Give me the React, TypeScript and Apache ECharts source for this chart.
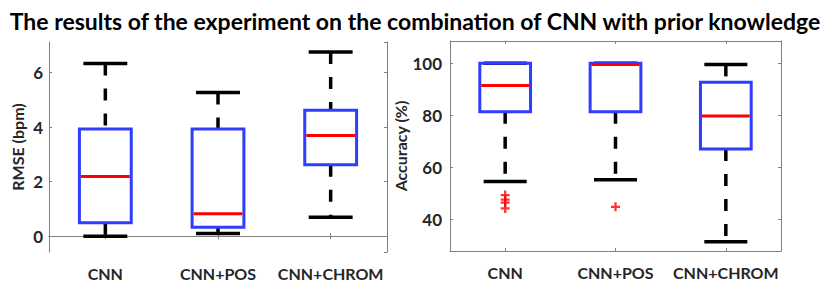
import React, { useEffect, useRef } from "react";
import * as echarts from "echarts";

const categories = ["CNN", "CNN+POS", "CNN+CHROM"];
// [low whisker, q1, median, q3, high whisker]
const rmseBoxes = [
  [0.0, 0.49, 2.19, 3.93, 6.33],
  [0.1, 0.33, 0.82, 3.93, 5.27],
  [0.69, 2.62, 3.69, 4.62, 6.75],
];
const accBoxes = [
  [54.5, 81.4, 91.5, 100, 100],
  [55.2, 81.4, 99.6, 100, 100],
  [31.4, 67.0, 79.7, 92.7, 99.6],
];
// [category index, value]
const accOutliers = [
  [0, 49.3],
  [0, 47.6],
  [0, 46.4],
  [0, 44.2],
  [1, 44.8],
];
const titleText = "The results of the experiment on the combination of CNN with prior knowledge";
const rmseName = "RMSE (bpm)";
const accName = "Accuracy (%)";

const FONT = "Lato";
const AXIS_COLOR = "#7f7f7f";
const TEXT_COLOR = "#262626";
const BLUE = "#2f3dff";
const RED = "#ff0000";

function renderBox(params: any, api: any) {
  const idx = api.value(0);
  const lo = api.coord([idx, api.value(1)]);
  const q1 = api.coord([idx, api.value(2)]);
  const med = api.coord([idx, api.value(3)]);
  const q3 = api.coord([idx, api.value(4)]);
  const hi = api.coord([idx, api.value(5)]);
  const band = api.size([1, 0])[0];
  const bw = band * 0.46;
  const cw = band * 0.39;
  const x = lo[0];
  const whiskerStyle = { stroke: "#000", lineWidth: 3.5, lineDash: [12, 13], fill: null };
  const capStyle = { stroke: "#000", lineWidth: 3.5, fill: null };
  const children: any[] = [];
  if (hi[1] < q3[1] - 1) {
    children.push({ type: "line", shape: { x1: x, y1: hi[1], x2: x, y2: q3[1] }, style: whiskerStyle });
  }
  if (lo[1] > q1[1] + 1) {
    children.push({ type: "line", shape: { x1: x, y1: q1[1], x2: x, y2: lo[1] }, style: whiskerStyle });
  }
  children.push({ type: "line", shape: { x1: x - cw / 2, y1: hi[1], x2: x + cw / 2, y2: hi[1] }, style: capStyle });
  children.push({ type: "line", shape: { x1: x - cw / 2, y1: lo[1], x2: x + cw / 2, y2: lo[1] }, style: capStyle });
  children.push({
    type: "rect",
    shape: { x: x - bw / 2, y: q3[1], width: bw, height: q1[1] - q3[1] },
    style: { stroke: BLUE, lineWidth: 3, fill: "none" },
  });
  children.push({
    type: "line",
    shape: { x1: x - bw / 2 + 1.5, y1: med[1], x2: x + bw / 2 - 1.5, y2: med[1] },
    style: { stroke: RED, lineWidth: 3 },
  });
  return { type: "group", children };
}

const plusPath = "path://M3,0H5V3H8V5H5V8H3V5H0V3H3Z";

export default function App() {
  const ref = useRef<HTMLDivElement>(null);
  useEffect(() => {
    if (!ref.current) return;
    const chart = echarts.init(ref.current, null, { renderer: "svg" });
    const catAxis = (gridIndex: number, position: string, labels: boolean) => ({
      type: "category",
      data: categories,
      gridIndex,
      position,
      boundaryGap: true,
      axisLine: { show: true, lineStyle: { color: AXIS_COLOR, width: 1 } },
      axisTick: { show: true, inside: true, length: 3, alignWithLabel: true, lineStyle: { color: AXIS_COLOR } },
      axisLabel: {
        show: labels,
        interval: 0,
        hideOverlap: false,
        color: TEXT_COLOR,
        fontFamily: FONT,
        fontWeight: "bold",
        fontSize: 16,
        margin: 13,
      },
      splitLine: { show: false },
    });
    const valAxis = (
      gridIndex: number,
      position: string,
      min: number,
      max: number,
      labels: boolean,
      name: string,
      nameGap: number,
      margin: number
    ) => ({
      type: "value",
      gridIndex,
      position,
      min,
      max,
      splitNumber: 4,
      name: labels ? name : "",
      nameLocation: "middle",
      nameGap,
      nameTextStyle: { color: TEXT_COLOR, fontFamily: FONT, fontWeight: "bold", fontSize: 16 },
      axisLine: { show: true, lineStyle: { color: AXIS_COLOR, width: 1 } },
      axisTick: { show: true, inside: true, length: 3, lineStyle: { color: AXIS_COLOR } },
      axisLabel: {
        show: labels,
        showMinLabel: false,
        showMaxLabel: false,
        color: TEXT_COLOR,
        fontFamily: FONT,
        fontWeight: "bold",
        fontSize: 17,
        margin,
      },
      splitLine: { show: false },
    });
    chart.setOption({
      animation: false,
      backgroundColor: "#fff",
      title: {
        text: titleText,
        left: "center",
        top: 4,
        textStyle: { color: "#000", fontFamily: FONT, fontWeight: "bold", fontSize: 23 },
      },
      grid: [
        { left: 49, right: 443, top: 42, bottom: 28 },
        { left: 450, right: 49, top: 41, bottom: 30 },
      ],
      xAxis: [
        catAxis(0, "bottom", true),
        catAxis(0, "top", false),
        catAxis(1, "bottom", true),
        catAxis(1, "top", false),
      ],
      yAxis: [
        valAxis(0, "left", -0.58, 7.12, true, rmseName, 24, 6),
        valAxis(0, "right", -0.58, 7.12, false, "", 0, 6),
        valAxis(1, "left", 27.8, 108.6, true, accName, 40, 8),
        valAxis(1, "right", 27.8, 108.6, false, "", 0, 8),
      ],
      series: [
        {
          type: "custom",
          xAxisIndex: 0,
          yAxisIndex: 0,
          renderItem: renderBox,
          encode: { x: 0, y: [1, 2, 3, 4, 5] },
          data: rmseBoxes.map((b, i) => [i, ...b]),
          z: 3,
        },
        {
          type: "custom",
          xAxisIndex: 2,
          yAxisIndex: 2,
          renderItem: renderBox,
          encode: { x: 0, y: [1, 2, 3, 4, 5] },
          data: accBoxes.map((b, i) => [i, ...b]),
          z: 3,
        },
        {
          type: "scatter",
          xAxisIndex: 2,
          yAxisIndex: 2,
          symbol: plusPath,
          symbolSize: 9,
          itemStyle: { color: RED },
          data: accOutliers,
          z: 4,
        },
      ],
    });
    return () => chart.dispose();
  }, []);
  return <div ref={ref} style={{ position: "fixed", left: 0, top: 0, width: 830, height: 281 }} />;
}
